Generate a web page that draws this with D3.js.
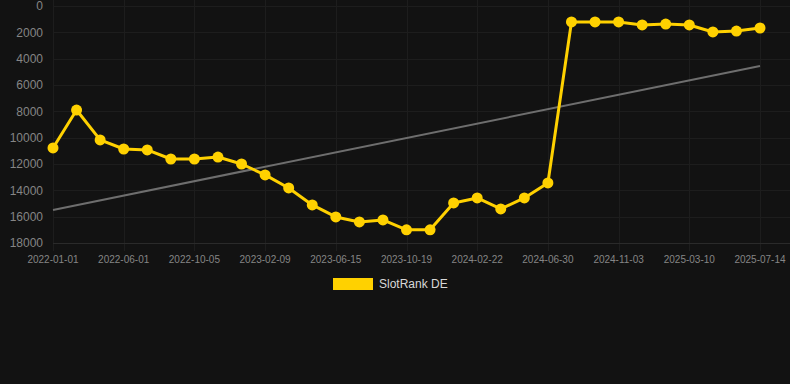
<!DOCTYPE html>
<html>
<head>
<meta charset="utf-8">
<script src="https://cdn.jsdelivr.net/npm/d3@7"></script>
<style>
  html, body { margin: 0; padding: 0; background: #121212; }
  svg { display: block; font-family: "Liberation Sans", Arial, sans-serif; }
</style>
</head>
<body>
<div id="chart"></div>
<script>
const dates = [
  "2022-01-01", "2022-02-20", "2022-04-11", "2022-06-01", "2022-07-13", "2022-08-24",
  "2022-10-05", "2022-11-16", "2022-12-28", "2023-02-09", "2023-03-23", "2023-05-04",
  "2023-06-15", "2023-07-27", "2023-09-07", "2023-10-19", "2023-11-30", "2024-01-11",
  "2024-02-22", "2024-04-04", "2024-05-17", "2024-06-30", "2024-08-11", "2024-09-22",
  "2024-11-03", "2024-12-15", "2025-01-26", "2025-03-10", "2025-04-21", "2025-06-02",
  "2025-07-14"
];
const rank = [
  10780, 7900, 10170, 10860, 10930, 11620, 11620, 11470, 12000, 12830, 13820, 15110,
  16020, 16400, 16250, 17000, 17000, 14960, 14580, 15410, 14580, 13440, 1210, 1210,
  1210, 1440, 1370, 1440, 1970, 1900, 1670
];
const trend = [15490, 4560]; // start / end of trend line
const yTicks = [0, 2000, 4000, 6000, 8000, 10000, 12000, 14000, 16000, 18000];
const seriesName = "SlotRank DE";

const width = 790, height = 384;
const margin = { top: 6, right: 30, bottom: 141, left: 53 };
const yellow = "#FFD100";
const grid = "#1d1d1d";

const svg = d3.select("#chart").append("svg")
  .attr("width", width)
  .attr("height", height);

svg.append("rect").attr("width", width).attr("height", height).attr("fill", "#121212");

const x = d3.scalePoint()
  .domain(dates)
  .range([margin.left, width - margin.right]);

const y = d3.scaleLinear()
  .domain([0, 18000])
  .range([margin.top, height - margin.bottom]);

const xTicks = dates.filter((d, i) => i % 3 === 0);

// grid
const gGrid = svg.append("g");
gGrid.selectAll(".vgrid")
  .data(xTicks)
  .join("line")
  .attr("x1", (d) => Math.round(x(d)) + 0.5)
  .attr("x2", (d) => Math.round(x(d)) + 0.5)
  .attr("y1", 0)
  .attr("y2", y(18000) + 8)
  .attr("stroke", grid)
  .attr("stroke-width", 1);

gGrid.selectAll(".hgrid")
  .data(yTicks)
  .join("line")
  .attr("x1", margin.left)
  .attr("x2", width)
  .attr("y1", (d) => Math.round(y(d)) + 0.5)
  .attr("y2", (d) => Math.round(y(d)) + 0.5)
  .attr("stroke", (d) => (d === 18000 ? "#2a2a2a" : grid))
  .attr("stroke-width", 1);

// y labels
svg.append("g").selectAll("text")
  .data(yTicks)
  .join("text")
  .attr("x", 43)
  .attr("y", (d) => y(d))
  .attr("dy", "0.35em")
  .attr("text-anchor", "end")
  .attr("fill", "#858585")
  .attr("font-size", 12)
  .text((d) => d);

// x labels
svg.append("g").selectAll("text")
  .data(xTicks)
  .join("text")
  .attr("x", (d) => x(d))
  .attr("y", y(18000) + 20)
  .attr("text-anchor", "middle")
  .attr("fill", "#858585")
  .attr("font-size", 10)
  .text((d) => d);

// trend line
svg.append("line")
  .attr("x1", x(dates[0]))
  .attr("x2", x(dates[dates.length - 1]))
  .attr("y1", y(trend[0]))
  .attr("y2", y(trend[1]))
  .attr("stroke", "#6e6e6e")
  .attr("stroke-width", 2);

// series
const line = d3.line()
  .x((d, i) => x(dates[i]))
  .y((d) => y(d));

svg.append("path")
  .datum(rank)
  .attr("d", line)
  .attr("fill", "none")
  .attr("stroke", yellow)
  .attr("stroke-width", 3)
  .attr("stroke-linejoin", "round");

svg.append("g").selectAll("circle")
  .data(rank)
  .join("circle")
  .attr("cx", (d, i) => x(dates[i]))
  .attr("cy", (d) => y(d))
  .attr("r", 5.5)
  .attr("fill", yellow);

// legend
const legend = svg.append("g");
legend.append("rect")
  .attr("x", 333)
  .attr("y", 278)
  .attr("width", 40)
  .attr("height", 12)
  .attr("fill", yellow);
legend.append("text")
  .attr("x", 379)
  .attr("y", 284)
  .attr("dy", "0.35em")
  .attr("fill", "#d8d8d8")
  .attr("font-size", 12)
  .text(seriesName);
</script>
</body>
</html>
